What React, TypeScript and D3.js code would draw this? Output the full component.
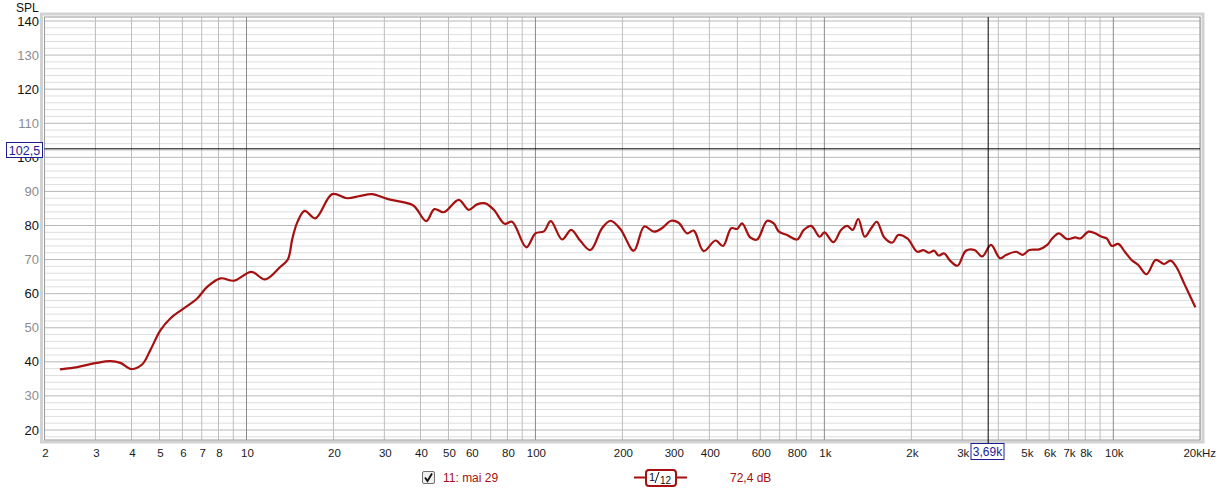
import React from 'react';
import * as d3 from 'd3';

const freqs = [
  2.26, 2.53, 3.0, 3.38, 3.66, 4.0, 4.36, 4.65, 5.04, 5.46, 6.0, 6.75, 7.31, 8.13, 9.04,
  10.4, 11.6, 13.1, 13.9, 14.4, 15.0, 15.9, 17.3, 19.8, 22.3, 24.8, 27.2, 30.7, 34.1, 37.9,
  41.9, 44.7, 48.2, 54.3, 58.8, 62.8, 67.1, 71.8, 78.2, 83.0, 93.0, 100, 107, 113,
  123.7, 133, 143, 155, 170, 182, 197, 219, 238, 257, 274, 295, 313, 335, 353, 382,
  420, 446, 476, 499, 519, 554, 585, 634, 668, 696, 743, 805, 849, 900, 964, 1000,
  1075, 1142, 1200, 1253, 1310, 1380, 1453, 1519, 1612, 1722, 1800, 1937, 2097, 2200, 2300,
  2400, 2484, 2600, 2722, 2890, 3088, 3311, 3515, 3773, 4053, 4265, 4612, 4860, 5120, 5540, 5908,
  6146, 6478, 6920, 7390, 7685, 8210, 8650, 9120, 9490, 9875, 10400, 10960, 11560,
  12200, 13030, 14030, 14980, 15790, 16510, 17630, 19230,
];
const spl = [
  37.8, 38.3, 39.6, 40.2, 39.7, 37.9, 39.3, 43.5, 49.3, 52.8, 55.4, 58.6, 62.0, 64.5, 63.8,
  66.4, 64.2, 67.9, 70.0, 76.0, 81.0, 84.3, 82.1, 89.2, 88.0, 88.7, 89.2, 87.8, 87.0, 85.8,
  81.3, 84.8, 83.9, 87.5, 84.6, 86.2, 86.5, 84.6, 80.5, 81.1, 73.6, 77.7, 78.3, 81.3,
  75.9, 78.7, 75.5, 72.8, 79.2, 81.4, 78.9, 72.6, 79.7, 78.2, 79.2, 81.4, 80.8, 77.7, 78.5, 72.5,
  75.6, 74.0, 79.2, 79.0, 80.6, 76.5, 75.9, 81.4, 80.6, 78.2, 77.2, 75.9, 78.7, 79.9, 76.7, 78.0,
  75.1, 78.7, 79.9, 78.7, 81.9, 76.7, 79.2, 81.1, 76.5, 75.0, 77.2, 76.2, 72.3, 72.8, 72.0,
  72.6, 71.2, 71.8, 69.7, 68.2, 72.6, 72.8, 70.9, 74.3, 70.4, 71.4, 72.3, 71.4, 72.8, 73.0, 74.3,
  76.2, 77.7, 76.0, 76.5, 76.2, 78.2, 77.7, 76.7, 76.2, 74.0, 74.6, 72.3, 69.9,
  68.4, 65.7, 69.9, 68.7, 69.7, 67.9, 62.8, 56.0,
];

const xTickValues = [2, 3, 4, 5, 6, 7, 8, 10, 20, 30, 40, 50, 60, 80, 100, 200, 300, 400, 600, 800,
  1000, 2000, 3000, 5000, 6000, 7000, 8000, 10000, 20000];
const xTickLabels = ['2', '3', '4', '5', '6', '7', '8', '10', '20', '30', '40', '50', '60', '80', '100',
  '200', '300', '400', '600', '800', '1k', '2k', '3k', '5k', '6k', '7k', '8k', '10k', '20kHz'];
const yTickValues = [20, 30, 40, 50, 60, 70, 80, 90, 100, 110, 120, 130, 140];

const cursorFreq = 3690;
const cursorSpl = 102.5;
const legendName = '11: mai 29';
const legendValue = '72,4 dB';

const W = 1222, H = 492;
const left = 44.5, right = 1200, top = 17, bottom = 440;
const font = '"Liberation Sans", Arial, sans-serif';
const red = '#a51010';
const navy = '#1c1c96';

export default function App() {
  const x = d3.scaleLog().domain([10, 10000]).range([246.5, 1113.3]);
  const y = d3.scaleLinear().domain([20, 140]).range([430, 21]);

  // vertical grid: every 1..9 multiple from 2 Hz to 20 kHz
  const vLines: { f: number; major: boolean }[] = [];
  for (let d = 1; d <= 10000; d *= 10) {
    for (let m = 1; m <= 9; m++) {
      const f = d * m;
      if (f >= 2 && f <= 20000) vLines.push({ f, major: m === 1 });
    }
  }
  const hMinor = d3.range(18, 141, 2).filter(v => v % 10 !== 0);

  const pts: [number, number][] = freqs.map((f, i) => [x(f), y(spl[i])]);
  const line = d3.line().curve(d3.curveCatmullRom.alpha(0.5))(pts) || '';

  const cx = x(cursorFreq);
  const cy = y(cursorSpl);

  return (
    <svg width={W} height={H} style={{ position: 'absolute', left: 0, top: 0, background: '#fff' }}
      fontFamily={font}>
      {/* frame shadow */}
      <rect x={left - 3} y={top - 3} width={right - left + 6} height={bottom - top + 5}
        fill="none" stroke="#d2d2d2" strokeWidth={3} />
      <rect x={left} y={top} width={right - left} height={bottom - top} fill="#fff" />

      {hMinor.map(v => (
        <line key={'hm' + v} x1={left} x2={right} y1={y(v)} y2={y(v)} stroke="#dedede" />
      ))}
      {yTickValues.map(v => (
        <line key={'hM' + v} x1={left} x2={right} y1={y(v)} y2={y(v)} stroke="#b8b8b8" />
      ))}
      {vLines.map(l => (
        <line key={'v' + l.f} x1={x(l.f)} x2={x(l.f)} y1={top} y2={bottom}
          stroke={l.major ? '#8a8a8a' : '#bdbdbd'} />
      ))}

      <rect x={left} y={top} width={right - left} height={bottom - top} fill="none" stroke="#9a9a9a" />

      <path d={line} fill="none" stroke={red} strokeWidth={2.2} strokeLinejoin="round" />

      {/* cursor */}
      <line x1={left} x2={right} y1={cy} y2={cy} stroke="#000" />
      <line x1={cx} x2={cx} y1={top} y2={443} stroke="#000" />

      <text x={16} y={11.5} fontSize={12} fill="#111">SPL</text>
      {yTickValues.map((v, i) => (
        <text key={'yl' + v} x={39} y={y(v) + 4.5} fontSize={13} textAnchor="end"
          fill={i % 2 === 0 ? '#111' : '#8c8c8c'}>{v}</text>
      ))}
      {xTickValues.map((v, i) => (
        <text key={'xl' + v} x={x(v) + (i === xTickValues.length - 1 ? -0.5 : 1)} y={457}
          fontSize={11.5} textAnchor="middle" fill="#1a1a1a">{xTickLabels[i]}</text>
      ))}

      {/* cursor readouts */}
      <rect x={6.5} y={142.5} width={36} height={15} fill="#fff" stroke={navy} />
      <text x={24.5} y={154.5} fontSize={12.5} textAnchor="middle" fill={navy}>102,5</text>
      <rect x={971} y={443.5} width={33} height={16} fill="#fff" stroke={navy} />
      <text x={987.5} y={456} fontSize={12} textAnchor="middle" fill={navy}>3,69k</text>

      {/* legend */}
      <rect x={422.5} y={471.5} width={12} height={12} fill="#f0f0f0" stroke="#707070" rx={1.5} />
      <path d="M425 477.5 L427.5 481 L432 473.5" fill="none" stroke="#111" strokeWidth={1.8} />
      <text x={443} y={482} fontSize={12} fill={red}>{legendName}</text>

      <line x1={634} x2={687} y1={477.5} y2={477.5} stroke={red} strokeWidth={2} />
      <rect x={646} y={470} width={30} height={16} rx={3} fill="#fff" stroke={red} strokeWidth={2} />
      <text x={649} y={481} fontSize={11} fill="#111">1</text>
      <line x1={655} x2={659} y1={483} y2={472} stroke="#111" strokeWidth={1} />
      <text x={660} y={484} fontSize={10} fill="#111">12</text>

      <text x={730} y={482} fontSize={12} fill={red}>{legendValue}</text>
    </svg>
  );
}
